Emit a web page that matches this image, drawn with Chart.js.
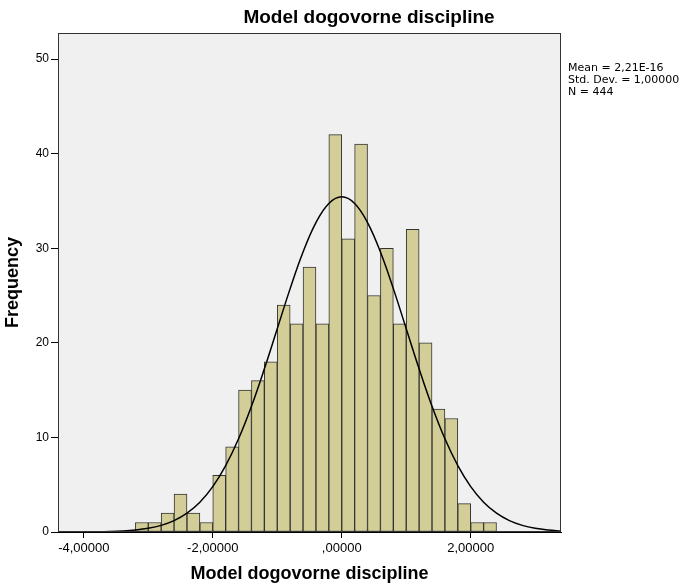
<!DOCTYPE html>
<html><head><meta charset="utf-8">
<script src="https://cdn.jsdelivr.net/npm/chart.js@4.4.0/dist/chart.umd.min.js"></script>
<style>html,body{margin:0;padding:0;background:#fff;}canvas{display:block;}</style>
</head><body>
<canvas id="c" width="688" height="587"></canvas>
<script>
// ---- data ----
const binCenters = [-3.1,-2.9,-2.7,-2.5,-2.3,-2.1,-1.9,-1.7,-1.5,-1.3,-1.1,-0.9,-0.7,-0.5,-0.3,-0.1,0.1,0.3,0.5,0.7,0.9,1.1,1.3,1.5,1.7,1.9,2.1,2.3];
const frequencies = [1,1,2,4,2,1,6,9,15,16,18,24,22,28,22,42,31,41,25,30,22,32,20,13,12,3,1,1];
const curveX = [-4.4,-4.2,-4.0,-3.8,-3.6,-3.4,-3.2,-3.0,-2.8,-2.6,-2.4,-2.2,-2.0,-1.8,-1.6,-1.4,-1.2,-1.0,-0.8,-0.6,-0.4,-0.2,0,0.2,0.4,0.6,0.8,1.0,1.2,1.4,1.6,1.8,2.0,2.2,2.4,2.6,2.8,3.0,3.2,3.4];
const curveY = [0.002,0.005,0.012,0.026,0.054,0.109,0.212,0.394,0.703,1.206,1.989,3.150,4.795,7.012,9.851,13.297,17.246,21.490,25.728,29.594,32.706,34.729,35.43,34.729,32.706,29.594,25.728,21.490,17.246,13.297,9.851,7.012,4.795,3.150,1.989,1.206,0.703,0.394,0.212,0.109];
const xTickValues = [-4,-2,0,2];
const xTickLabels = ['-4,00000','-2,00000',',00000','2,00000'];
const yTickValues = [0,10,20,30,40,50];
const statsLines = ['Mean = 2,21E-16','Std. Dev. = 1,00000','N = 444'];
const chartTitle = 'Model dogovorne discipline';
const xAxisTitle = 'Model dogovorne discipline';
const yAxisTitle = 'Frequency';

const SANS = '"Liberation Sans", Arial, sans-serif';

const decor = {
  id: 'decor',
  beforeDatasetsDraw(chart) {
    const {ctx, chartArea: a} = chart;
    ctx.save();
    ctx.fillStyle = '#F0F0F0';
    ctx.fillRect(a.left, a.top, a.right - a.left, a.bottom - a.top);
    ctx.restore();
  },
  afterDraw(chart) {
    const {ctx, chartArea: a} = chart;
    ctx.save();
    ctx.strokeStyle = '#333';
    ctx.lineWidth = 1;
    ctx.strokeRect(a.left + 0.5, a.top + 0.5, a.right - a.left - 1, a.bottom - a.top - 1);
    ctx.fillStyle = '#000';
    ctx.font = 'bold 19px ' + SANS;
    ctx.textAlign = 'center';
    ctx.textBaseline = 'middle';
    ctx.fillText(chartTitle, 369, 18);
    ctx.font = '11px "DejaVu Sans", sans-serif';
    ctx.textAlign = 'left';
    statsLines.forEach((t, i) => ctx.fillText(t, 568, 68 + i * 12));
    ctx.restore();
  }
};

new Chart(document.getElementById('c'), {
  type: 'bar',
  data: {
    datasets: [
      {
        type: 'line',
        data: curveX.map((x, i) => ({x, y: curveY[i]})),
        borderColor: '#000',
        borderWidth: 1.5,
        pointRadius: 0,
        tension: 0.4,
        fill: false,
        order: 0
      },
      {
        type: 'bar',
        data: binCenters.map((x, i) => ({x, y: frequencies[i]})),
        backgroundColor: '#D3CE97',
        borderColor: '#333',
        borderWidth: 1,
        borderSkipped: false,
        barPercentage: 1,
        categoryPercentage: 1,
        order: 1
      }
    ]
  },
  options: {
    responsive: false,
    devicePixelRatio: 1,
    animation: false,
    layout: {padding: {top: 33, right: 127, bottom: 0, left: 0}},
    plugins: {legend: {display: false}, tooltip: {enabled: false}},
    scales: {
      x: {
        type: 'linear', min: -4.4, max: 3.4, offset: false,
        afterBuildTicks: s => { s.ticks = xTickValues.map(v => ({value: v})); },
        afterFit: s => { s.height = 55; },
        grid: {drawOnChartArea: false, drawTicks: true, tickLength: 6, color: '#000', offset: false},
        border: {display: true, color: '#000'},
        ticks: {
          autoSkip: false, maxRotation: 0, color: '#000', padding: 3,
          font: {family: SANS, size: 13},
          callback: v => xTickLabels[xTickValues.indexOf(v)]
        },
        title: {display: true, text: xAxisTitle, color: '#000', font: {family: SANS, size: 18, weight: 'bold'}, padding: {top: 0, bottom: 2}}
      },
      y: {
        min: 0, max: 52.75,
        afterBuildTicks: s => { s.ticks = yTickValues.map(v => ({value: v})); },
        afterFit: s => { s.width = 58; },
        grid: {drawOnChartArea: false, drawTicks: true, tickLength: 7, color: '#000'},
        border: {display: true, color: '#000'},
        ticks: {color: '#000', padding: 2, font: {family: SANS, size: 12}},
        title: {display: true, text: yAxisTitle, color: '#000', font: {family: SANS, size: 18, weight: 'bold'}, padding: {top: 2, bottom: 0}}
      }
    }
  },
  plugins: [decor]
});
</script>
</body></html>
